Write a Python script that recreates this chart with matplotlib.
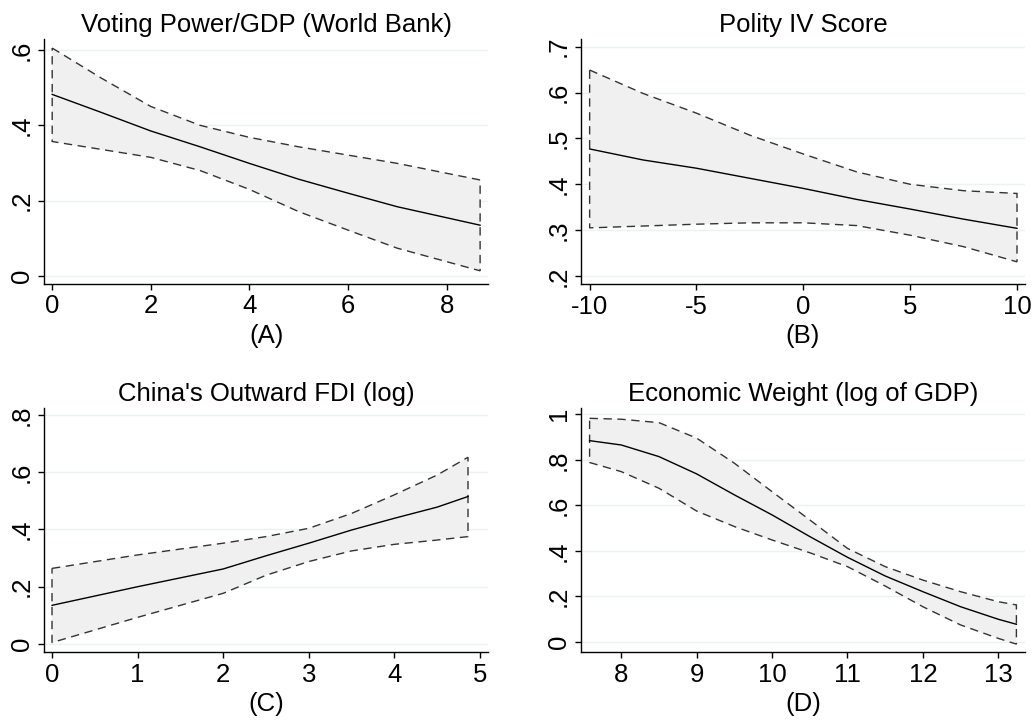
import numpy as np
import matplotlib
matplotlib.use("Agg")
import matplotlib.pyplot as plt

plt.rcParams['font.family'] = ['Liberation Sans', 'DejaVu Sans']

# Panel A: Voting Power/GDP (World Bank)
a_x = [0, 1, 2, 3, 4, 5, 6, 7, 8.68]
a_mid = [0.482, 0.434, 0.385, 0.343, 0.299, 0.257, 0.220, 0.184, 0.135]
a_up = [0.605, 0.525, 0.450, 0.400, 0.368, 0.343, 0.321, 0.299, 0.255]
a_lo = [0.357, 0.336, 0.315, 0.280, 0.230, 0.171, 0.122, 0.074, 0.014]

# Panel B: Polity IV Score
b_x = [-10, -7.5, -5, -2.5, 0, 2.5, 5, 7.5, 10]
b_mid = [0.477, 0.453, 0.435, 0.413, 0.391, 0.367, 0.346, 0.324, 0.304]
b_up = [0.649, 0.598, 0.555, 0.507, 0.466, 0.427, 0.400, 0.386, 0.380]
b_lo = [0.305, 0.309, 0.313, 0.316, 0.316, 0.310, 0.289, 0.264, 0.231]

# Panel C: China's Outward FDI (log)
c_x = [0, 1, 2, 2.5, 3, 3.5, 4, 4.5, 4.86]
c_mid = [0.135, 0.200, 0.262, 0.308, 0.352, 0.398, 0.439, 0.478, 0.515]
c_up = [0.264, 0.311, 0.352, 0.375, 0.404, 0.456, 0.521, 0.590, 0.652]
c_lo = [0.005, 0.093, 0.177, 0.240, 0.288, 0.325, 0.348, 0.363, 0.375]

# Panel D: Economic Weight (log of GDP)
d_x = [7.58, 8, 8.5, 9, 9.5, 10, 10.5, 11, 11.5, 12, 12.5, 13, 13.24]
d_mid = [0.884, 0.865, 0.814, 0.738, 0.646, 0.558, 0.463, 0.372, 0.290, 0.221, 0.155, 0.100, 0.078]
d_up = [0.982, 0.978, 0.963, 0.895, 0.785, 0.660, 0.536, 0.411, 0.331, 0.272, 0.221, 0.177, 0.163]
d_lo = [0.788, 0.748, 0.675, 0.575, 0.507, 0.448, 0.392, 0.331, 0.246, 0.155, 0.075, 0.016, -0.009]

panels = [
    dict(title="Voting Power/GDP (World Bank)", label="(A)", x=a_x, mid=a_mid, up=a_up, lo=a_lo,
         xticks=[0, 2, 4, 6, 8], xtl=["0", "2", "4", "6", "8"],
         yticks=[0, 0.2, 0.4, 0.6], ytl=["0", ".2", ".4", ".6"],
         xlim=(-0.16, 8.84), ylim=(-0.021, 0.629),
         rect=[44.3, 39, 488, 284]),
    dict(title="Polity IV Score", label="(B)", x=b_x, mid=b_mid, up=b_up, lo=b_lo,
         xticks=[-10, -5, 0, 5, 10], xtl=["-10", "-5", "0", "5", "10"],
         yticks=[0.2, 0.3, 0.4, 0.5, 0.6, 0.7], ytl=[".2", ".3", ".4", ".5", ".6", ".7"],
         xlim=(-10.39, 10.36), ylim=(0.182, 0.716),
         rect=[581.3, 39.3, 1024.7, 284.3]),
    dict(title="China's Outward FDI (log)", label="(C)", x=c_x, mid=c_mid, up=c_up, lo=c_lo,
         xticks=[0, 1, 2, 3, 4, 5], xtl=["0", "1", "2", "3", "4", "5"],
         yticks=[0, 0.2, 0.4, 0.6, 0.8], ytl=["0", ".2", ".4", ".6", ".8"],
         xlim=(-0.09, 5.09), ylim=(-0.029, 0.823),
         rect=[44.3, 408.3, 487.7, 652.3]),
    dict(title="Economic Weight (log of GDP)", label="(D)", x=d_x, mid=d_mid, up=d_up, lo=d_lo,
         xticks=[8, 9, 10, 11, 12, 13], xtl=["8", "9", "10", "11", "12", "13"],
         yticks=[0, 0.2, 0.4, 0.6, 0.8, 1.0], ytl=["0", ".2", ".4", ".6", ".8", "1"],
         xlim=(7.47, 13.35), ylim=(-0.045, 1.026),
         rect=[581.3, 408.3, 1024.7, 652.3]),
]

W, H = 1034, 720
FS = 18.5
fig = plt.figure(figsize=(W / 100, H / 100), dpi=100)
fig.patch.set_facecolor("white")

for p in panels:
    l, t, r, b = p["rect"]
    ax = fig.add_axes([l / W, 1 - b / H, (r - l) / W, (b - t) / H])
    x = np.array(p["x"])
    up = np.array(p["up"])
    lo = np.array(p["lo"])
    mid = np.array(p["mid"])
    for yv in p["yticks"]:
        ax.axhline(yv, color="#eaf2f3", lw=1.0, zorder=0)
    ax.fill(np.concatenate([x, x[::-1]]), np.concatenate([up, lo[::-1]]),
            facecolor="#f0f0f0", edgecolor="#333333", linestyle=(0, (6, 4)), lw=1.0, zorder=2)
    ax.plot(x, mid, color="black", lw=1.0, zorder=3)
    ax.set_xlim(*p["xlim"])
    ax.set_ylim(*p["ylim"])
    ax.set_xticks(p["xticks"])
    ax.set_xticklabels(p["xtl"], fontsize=FS)
    ax.set_yticks(p["yticks"])
    ax.set_yticklabels(p["ytl"], fontsize=FS, rotation=90, va="center")
    ax.tick_params(direction="out", length=4, width=1, color="black", pad=3.5)
    ax.spines["top"].set_visible(False)
    ax.spines["right"].set_visible(False)
    for s in ["left", "bottom"]:
        ax.spines[s].set_color("black")
        ax.spines[s].set_linewidth(1.0)
    ax.set_title(p["title"], fontsize=FS, pad=5)
    ax.set_xlabel(p["label"], fontsize=FS, labelpad=4)

fig.savefig("out.png", dpi=100, facecolor="white")
